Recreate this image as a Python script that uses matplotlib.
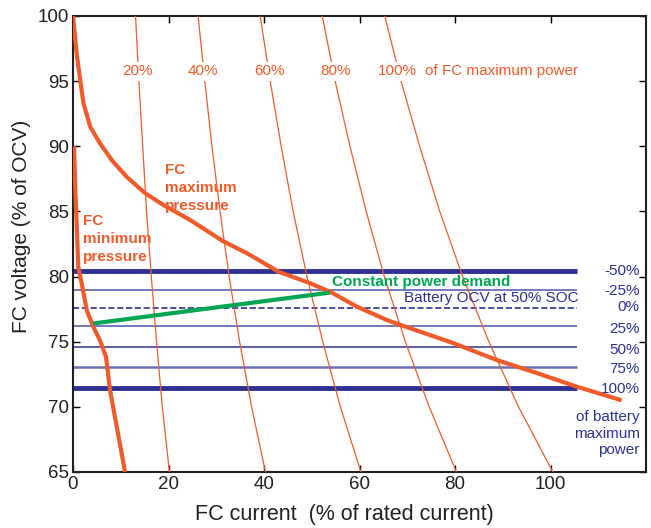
import matplotlib
matplotlib.use("Agg")
import matplotlib.pyplot as plt

plt.rcParams['font.family'] = ['Liberation Sans', 'DejaVu Sans']

ORANGE = '#F15A29'
NAVY = '#2E3192'
LIGHTNAVY = '#6970B5'
GREEN = '#00A651'

# FC maximum pressure polarization curve
max_p_x = [0, 0.8, 1.8, 2.2, 3.6, 5.65, 8.1, 11.2, 15.1, 18.9, 24.5, 31.5, 36.4, 41.3, 43.0,
           49.6, 54.2, 59.4, 65.7, 68.5, 79.6, 88.7, 97.1, 105.5, 114.9]
max_p_y = [100, 97.0, 94.3, 93.3, 91.5, 90.23, 88.95, 87.67, 86.4, 85.5, 84.35, 82.7, 81.8, 80.75, 80.38,
           79.5, 78.77, 77.7, 76.67, 76.3, 74.9, 73.6, 72.6, 71.55, 70.5]

# FC minimum pressure polarization curve
min_p_x = [0.2, 0.5, 0.77, 1.1, 1.8, 2.9, 4.25, 5.65, 6.9, 7.75, 9.15, 10.9]
min_p_y = [90.0, 86.5, 84.1, 80.76, 79.5, 77.4, 76.15, 75.1, 73.85, 71.3, 68.5, 65.0]

# Constant power demand line
demand_x = [4.25, 53.8]
demand_y = [76.4, 78.77]

# Iso-power curves (% of FC maximum power)
iso_labels = ['20%', '40%', '60%', '80%', '100%']
iso_v = [100, 95, 90, 85, 80, 75, 70, 65]
iso_20 = [13.1, 13.8, 14.6, 15.4, 16.4, 17.5, 18.7, 20.2]
iso_40 = [26.2, 27.6, 29.1, 30.8, 32.7, 34.9, 37.4, 40.3]
iso_60 = [39.2, 41.3, 43.6, 46.1, 49.0, 52.3, 56.0, 60.3]
iso_80 = [52.2, 54.9, 58.0, 61.4, 65.2, 69.6, 74.6, 80.3]
iso_100 = [65.3, 68.7, 72.6, 76.8, 81.6, 87.1, 93.3, 100.5]
iso_label_x = [13.6, 27.2, 41.2, 54.9, 68.0]

# Battery voltage levels (% of battery maximum power)
batt_labels = ['-50%', '-25%', '0%', '25%', '50%', '75%', '100%']
batt_levels = [80.4, 79.0, 77.6, 76.2, 74.6, 73.06, 71.43]
batt_label_y = [80.4, 78.9, 77.7, 76.0, 74.4, 72.9, 71.4]
batt_colors = [NAVY, LIGHTNAVY, NAVY, LIGHTNAVY, NAVY, LIGHTNAVY, NAVY]
batt_widths = [3.5, 1.3, 1.2, 1.3, 1.1, 1.8, 3.5]
batt_styles = ['-', '-', '--', '-', '-', '-', '-']

FS = 11

fig = plt.figure(figsize=(6.51, 5.28), dpi=100)
ax = fig.add_axes([73/651, 1 - 472/528, (646-73)/651, (472-16)/528])

# battery lines
for lvl, c, w, s in zip(batt_levels, batt_colors, batt_widths, batt_styles):
    ax.plot([0, 105.5], [lvl, lvl], color=c, lw=w, ls=s, solid_capstyle='butt', zorder=2)

# iso power curves
for xs in [iso_20, iso_40, iso_60, iso_80, iso_100]:
    ax.plot(xs, iso_v, color=ORANGE, lw=0.9, zorder=3)

for lab, lx in zip(iso_labels, iso_label_x):
    ax.text(lx, 95.75, lab, color=ORANGE, fontsize=FS, ha='center', va='center', zorder=4,
            bbox=dict(facecolor='white', edgecolor='none', pad=1.5))
ax.text(73.7, 95.75, 'of FC maximum power', color=ORANGE, fontsize=FS, ha='left', va='center', zorder=4)

# polarization curves
ax.plot(max_p_x, max_p_y, color=ORANGE, lw=3, zorder=5, solid_capstyle='butt')
ax.plot(min_p_x, min_p_y, color=ORANGE, lw=3, zorder=5, solid_capstyle='butt')
ax.plot(demand_x, demand_y, color=GREEN, lw=3, zorder=6, solid_capstyle='butt')

ax.text(19.3, 86.8, 'FC\nmaximum\npressure', color=ORANGE, fontsize=FS, fontweight='bold',
        ha='left', va='center', linespacing=1.35, zorder=7)
ax.text(2.0, 82.9, 'FC\nminimum\npressure', color=ORANGE, fontsize=FS, fontweight='bold',
        ha='left', va='center', linespacing=1.35, zorder=7)
ax.text(54.2, 79.6, 'Constant power demand', color=GREEN, fontsize=FS, fontweight='bold',
        ha='left', va='center', zorder=7)
ax.text(105.8, 78.35, 'Battery OCV at 50% SOC', color=NAVY, fontsize=FS,
        ha='right', va='center', zorder=7)

for lab, ly in zip(batt_labels, batt_label_y):
    ax.text(118.7, ly, lab, color=NAVY, fontsize=FS, ha='right', va='center')
ax.text(118.7, 67.95, 'of battery\nmaximum\npower', color=NAVY, fontsize=FS, ha='right',
        va='center', linespacing=1.25)

ax.set_xlim(0, 120)
ax.set_ylim(65, 100)
ax.set_xticks([0, 20, 40, 60, 80, 100])
ax.set_yticks([65, 70, 75, 80, 85, 90, 95, 100])
ax.tick_params(direction='in', top=True, right=True, length=5, width=1, labelsize=13.5,
               labelcolor='#231F20', pad=3)
for sp in ax.spines.values():
    sp.set_linewidth(1.5)
    sp.set_color('#231F20')

ax.set_xlabel('FC current  (% of rated current)', fontsize=15.5, color='#231F20', va='center')
ax.xaxis.set_label_coords(0.473, -0.094)
ax.set_ylabel('FC voltage (% of OCV)', fontsize=15, color='#231F20', va='center')
ax.yaxis.set_label_coords(-0.0895, 0.539)

fig.savefig('out.png', dpi=100)
